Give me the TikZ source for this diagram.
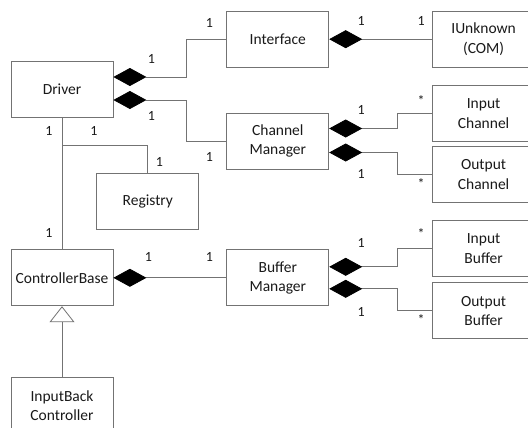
\documentclass[tikz,border=0pt]{standalone}
\usepackage{fontspec}
\setmainfont{Carlito}
\usetikzlibrary{positioning, arrows.meta}

\begin{document}
\begin{tikzpicture}[
  cls/.style={draw=black!55, line width=0.8bp, minimum width=102bp, minimum height=56bp,
              inner sep=2bp, align=center, text=black!90,
              font=\fontsize{15.5bp}{19.5bp}\selectfont},
  comp/.style={{Diamond[length=33bp, width=18bp, color=black]}-, draw=black!55, line width=0.8bp},
  assoc/.style={draw=black!55, line width=0.8bp},
  gen/.style={-{Triangle[open, length=16bp, width=25bp, fill=white]}, draw=black!55, line width=0.8bp},
  lbl/.style={font=\fontsize{14bp}{16bp}\selectfont, text=black!90, inner sep=0pt}
]

  \clip (0,0) rectangle (528bp,-428bp);

  % Class nodes
  \node[cls] (driver) at (62bp,-89bp) {Driver};
  \node[cls, below=132bp of driver] (cbase) {ControllerBase};
  \node[cls, below=71bp of cbase] (ibc) {InputBack\\Controller};
  \node[cls, right=113bp of cbase] (bufmgr) {Buffer\\Manager};
  \node[cls, above=80bp of bufmgr] (chmgr) {Channel\\Manager};
  \node[cls, above=45bp of chmgr] (iface) {Interface};
  \node[cls, right=103bp of iface] (iunk) {IUnknown\\(COM)};
  \node[cls, right=103bp of chmgr, yshift=27.5bp] (inch) {Input\\Channel};
  \node[cls, right=103bp of chmgr, yshift=-33.5bp] (outch) {Output\\Channel};
  \node[cls, right=103bp of bufmgr, yshift=29bp] (inbuf) {Input\\Buffer};
  \node[cls, right=103bp of bufmgr, yshift=-33bp] (outbuf) {Output\\Buffer};
  \node[cls, below right=56bp and -17bp of driver] (reg) {Registry};

  % Compositions
  \draw[comp] ([yshift=12bp]driver.east) -- ++(73bp,0) |- (iface.west);
  \draw[comp] ([yshift=-11bp]driver.east) -- ++(73bp,0) |- (chmgr.west);
  \draw[comp] (iface.east) -- (iunk.west);
  \draw[comp] ([yshift=12.5bp]chmgr.east) -- ++(68bp,0) |- (inch.west);
  \draw[comp] ([yshift=-11.5bp]chmgr.east) -- ++(68bp,0) |- (outch.west);
  \draw[comp] (cbase.east) -- (bufmgr.west);
  \draw[comp] ([yshift=11bp]bufmgr.east) -- ++(68bp,0) |- (inbuf.west);
  \draw[comp] ([yshift=-11bp]bufmgr.east) -- ++(68bp,0) |- (outbuf.west);

  % Associations and inheritance
  \draw[assoc] (driver.south) -- (cbase.north);
  \draw[assoc] ([yshift=-28bp]driver.south) -| (reg.north);
  \draw[gen] (ibc.north) -- (cbase.south);

  % Multiplicities
  \node[lbl] (m1) at ([shift={(38bp,30bp)}]driver.east) {1};
  \node[lbl] (m2) at ([shift={(38bp,-27bp)}]driver.east) {1};
  \node[lbl] (m3) at ([shift={(-17bp,16bp)}]iface.west) {1};
  \node[lbl] (m4) at ([shift={(-17bp,-15.5bp)}]chmgr.west) {1};
  \node[lbl] (m5) at ([shift={(32bp,18bp)}]iface.east) {1};
  \node[lbl] (m6) at ([shift={(-11bp,18bp)}]iunk.west) {1};
  \node[lbl] (m7) at ([shift={(32bp,31.5bp)}]chmgr.east) {1};
  \node[lbl] (m8) at ([shift={(-11bp,12.5bp)}]inch.west) {*};
  \node[lbl] (m9) at ([shift={(32bp,-32.5bp)}]chmgr.east) {1};
  \node[lbl] (m10) at ([shift={(-11bp,-9bp)}]outch.west) {*};
  \node[lbl] (m11) at ([shift={(-13bp,-14bp)}]driver.south) {1};
  \node[lbl] (m12) at ([shift={(32bp,-14bp)}]driver.south) {1};
  \node[lbl] (m13) at ([shift={(11.5bp,11bp)}]reg.north) {1};
  \node[lbl] (m14) at ([shift={(-13bp,16bp)}]cbase.north) {1};
  \node[lbl] (m15) at ([shift={(35bp,21bp)}]cbase.east) {1};
  \node[lbl] (m16) at ([shift={(-17bp,21bp)}]bufmgr.west) {1};
  \node[lbl] (m17) at ([shift={(32bp,35bp)}]bufmgr.east) {1};
  \node[lbl] (m18) at ([shift={(-11bp,15bp)}]inbuf.west) {*};
  \node[lbl] (m19) at ([shift={(32bp,-34bp)}]bufmgr.east) {1};
  \node[lbl] (m20) at ([shift={(-11bp,-9bp)}]outbuf.west) {*};

\end{tikzpicture}
\end{document}
